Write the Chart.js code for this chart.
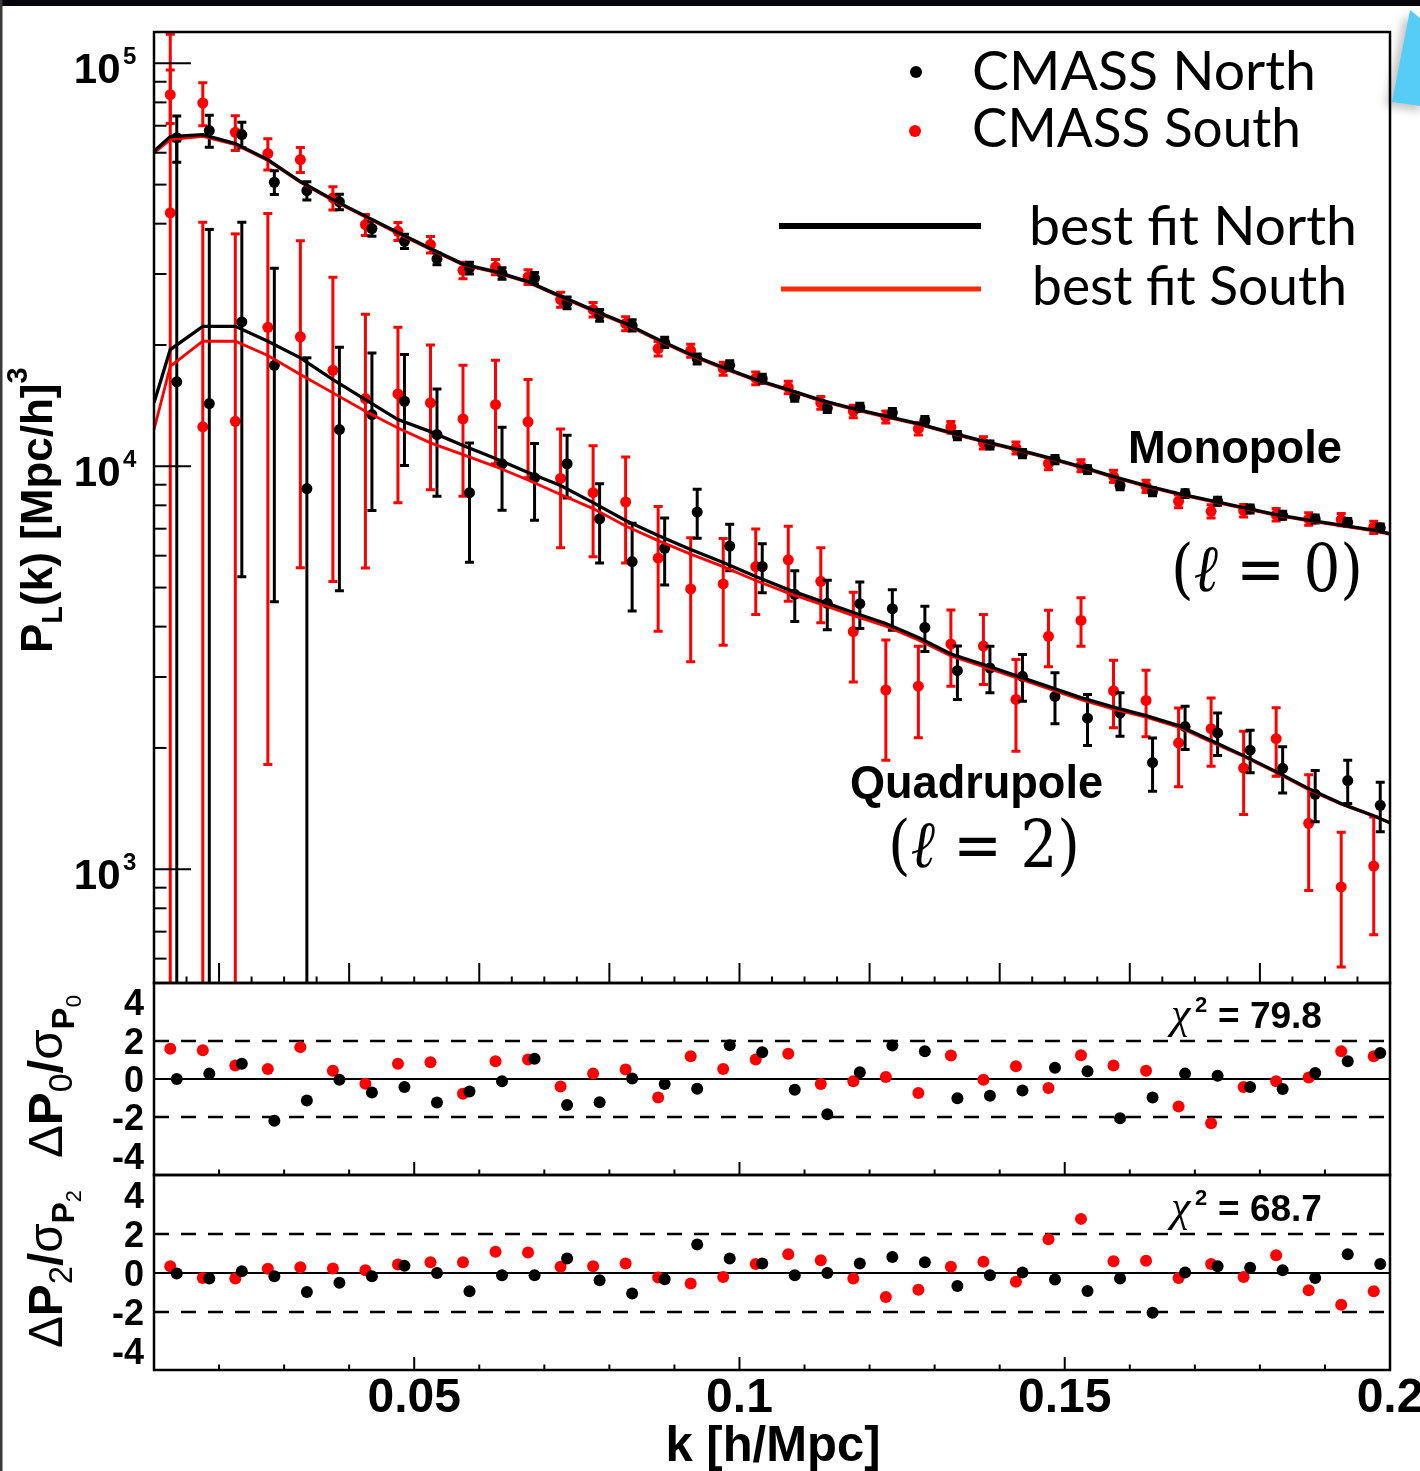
<!DOCTYPE html>
<html>
<head>
<meta charset="utf-8">
<title>CMASS power spectrum multipoles</title>
<script src="https://cdn.jsdelivr.net/npm/chart.js@4.4.1/dist/chart.umd.min.js"></script>
<style>
  html, body { margin: 0; padding: 0; background: #fff; }
  #page { position: relative; width: 1420px; height: 1471px; overflow: hidden; background: #fff; }
  #page canvas { position: absolute; left: 0; top: 0; width: 1420px; height: 1471px; }
  #overlay { position: absolute; left: 0; top: 0; pointer-events: none; }
</style>
</head>
<body>
<div id="page">
  <canvas id="mainPanel" width="1420" height="1471"></canvas>
  <canvas id="monoResidualPanel" width="1420" height="1471"></canvas>
  <canvas id="quadResidualPanel" width="1420" height="1471"></canvas>

  <svg id="overlay" width="1420" height="1471" viewBox="0 0 1420 1471" xmlns="http://www.w3.org/2000/svg">
    <defs>
      <filter id="soft" x="-50%" y="-50%" width="200%" height="200%"><feGaussianBlur stdDeviation="4"/></filter>
    </defs>
    <!-- slide furniture -->
    <rect x="0" y="0" width="1420" height="6" fill="#06060c"/>
    <rect x="0" y="0" width="2.5" height="1471" fill="#3a3a3a"/>
    <polygon points="1404,16 1385,106 1420,112 1420,24" fill="#000" opacity="0.22" filter="url(#soft)"/>
    <polygon points="1410,10 1392,102 1420,106 1420,18" fill="#55cdf6"/>

    <!-- legend -->
    <circle cx="916" cy="72" r="6" fill="#000"/>
    <circle cx="915" cy="131" r="6" fill="#ff0000"/>
    <line x1="779" y1="226" x2="981" y2="226" stroke="#000" stroke-width="6"/>
    <line x1="781" y1="289" x2="981" y2="289" stroke="#ff2a0a" stroke-width="5"/>
    <g font-family="Lato, 'Open Sans', sans-serif" font-size="55" fill="#000">
      <text x="972" y="90" textLength="344" lengthAdjust="spacingAndGlyphs">CMASS North</text>
      <text x="972" y="147" textLength="329" lengthAdjust="spacingAndGlyphs">CMASS South</text>
      <text x="1029" y="245" textLength="328" lengthAdjust="spacingAndGlyphs">best fit North</text>
      <text x="1032" y="305" textLength="315" lengthAdjust="spacingAndGlyphs">best fit South</text>
    </g>

    <!-- multipole annotations -->
    <g font-family="'Liberation Sans', Arial, sans-serif" font-weight="bold" font-size="46" fill="#000">
      <text x="1128" y="463" textLength="214" lengthAdjust="spacingAndGlyphs">Monopole</text>
      <text x="850" y="798" textLength="253" lengthAdjust="spacingAndGlyphs">Quadrupole</text>
    </g>
    <g font-family="'DejaVu Serif', 'Liberation Serif', serif" font-size="66" fill="#000">
      <text x="1171" y="591" textLength="192" lengthAdjust="spacingAndGlyphs">(<tspan font-style="italic">ℓ</tspan> = 0)</text>
      <text x="888" y="867" textLength="192" lengthAdjust="spacingAndGlyphs">(<tspan font-style="italic">ℓ</tspan> = 2)</text>
    </g>

    <!-- chi-square of each residual panel -->
    <g font-family="'Liberation Sans', Arial, sans-serif" font-weight="bold" font-size="37" fill="#000">
      <text x="1171" y="1028"><tspan font-family="'Liberation Serif', serif" font-style="italic" font-weight="normal" font-size="44">χ</tspan><tspan x="1195" dy="-16" font-size="22">2</tspan><tspan x="1218" dy="16">= 79.8</tspan></text>
      <text x="1171" y="1221"><tspan font-family="'Liberation Serif', serif" font-style="italic" font-weight="normal" font-size="44">χ</tspan><tspan x="1195" dy="-16" font-size="22">2</tspan><tspan x="1218" dy="16">= 68.7</tspan></text>
    </g>

    <!-- axis titles -->
    <g font-family="'Liberation Sans', Arial, sans-serif" fill="#000">
      <text x="773" y="1461" text-anchor="middle" font-weight="bold" font-size="50" textLength="215" lengthAdjust="spacingAndGlyphs">k [h/Mpc]</text>
      <text transform="translate(52,653) rotate(-90)" font-weight="bold" font-size="44">P<tspan font-size="29" dy="10">L</tspan><tspan dy="-10">(k) [Mpc/h]</tspan><tspan font-size="29" dy="-25">3</tspan></text>
      <text transform="translate(62,1158) rotate(-90)" font-size="48" textLength="163" lengthAdjust="spacingAndGlyphs">Δ<tspan font-weight="bold">P</tspan><tspan font-size="33" dy="10">0</tspan><tspan font-weight="bold" dy="-10">/</tspan>σ<tspan font-weight="bold" font-size="32" dy="12">P</tspan><tspan font-size="22" dy="7">0</tspan></text>
      <text transform="translate(62,1348) rotate(-90)" font-size="48" textLength="158" lengthAdjust="spacingAndGlyphs">Δ<tspan font-weight="bold">P</tspan><tspan font-size="33" dy="10">2</tspan><tspan font-weight="bold" dy="-10">/</tspan>σ<tspan font-weight="bold" font-size="32" dy="12">P</tspan><tspan font-size="22" dy="7">2</tspan></text>
    </g>
  </svg>
</div>

<script>
// ---------------------------------------------------------------------------
// Measured multipoles of the CMASS galaxy power spectrum, k in h/Mpc,
// P(k) in (Mpc/h)^3. South bins sit at the bin centres, North bins are
// drawn slightly shifted so the two samples do not hide each other.
// ---------------------------------------------------------------------------
const kSouth = [0.0125, 0.0175, 0.0225, 0.0275, 0.0325, 0.0375, 0.0425, 0.0475, 0.0525, 0.0575,
                0.0625, 0.0675, 0.0725, 0.0775, 0.0825, 0.0875, 0.0925, 0.0975, 0.1025, 0.1075,
                0.1125, 0.1175, 0.1225, 0.1275, 0.1325, 0.1375, 0.1425, 0.1475, 0.1525, 0.1575,
                0.1625, 0.1675, 0.1725, 0.1775, 0.1825, 0.1875, 0.1925, 0.1975];
const kNorth = [0.0135, 0.0185, 0.0235, 0.0285, 0.0335, 0.0385, 0.0435, 0.0485, 0.0535, 0.0585,
                0.0635, 0.0685, 0.0735, 0.0785, 0.0835, 0.0885, 0.0935, 0.0985, 0.1035, 0.1085,
                0.1135, 0.1185, 0.1235, 0.1285, 0.1335, 0.1385, 0.1435, 0.1485, 0.1535, 0.1585,
                0.1635, 0.1685, 0.1735, 0.1785, 0.1835, 0.1885, 0.1935, 0.1985];
const kFit = [0.01, 0.0125, 0.0175, 0.0225, 0.0275, 0.0325, 0.0375, 0.0425, 0.0475, 0.0525, 0.0575,
              0.0625, 0.0675, 0.0725, 0.0775, 0.0825, 0.0875, 0.0925, 0.0975, 0.1025, 0.1075,
              0.1125, 0.1175, 0.1225, 0.1275, 0.1325, 0.1375, 0.1425, 0.1475, 0.1525, 0.1575,
              0.1625, 0.1675, 0.1725, 0.1775, 0.1825, 0.1875, 0.1925, 0.1975, 0.2];

// Monopole (l = 0)
const monoNorth = [65400, 68080, 66550, 50680, 48320, 45310, 38890, 36170, 32710, 31050,
                   30100, 29300, 25440, 23700, 22380, 20310, 18470, 17800, 16500, 14870,
                   13950, 14000, 13590, 12990, 11920, 11300, 10750, 10390, 9813, 8956,
                   8654, 8556, 8188, 7839, 7557, 7404, 7261, 7033];
const monoNorthErr = [8600, 6200, 4860, 3450, 2535, 2025, 1690, 1470, 1100, 1050,
                      1000, 950, 850, 780, 720, 600, 520, 480, 430, 380,
                      350, 330, 320, 300, 280, 260, 250, 240, 220, 210,
                      200, 195, 185, 178, 172, 168, 163, 158];
const monoSouth = [83610, 79710, 67430, 59700, 57680, 46340, 39790, 38300, 35490, 30640,
                   31240, 29510, 25920, 24480, 22600, 19590, 19370, 17480, 16540, 15700,
                   14370, 13690, 13260, 12400, 12500, 11430, 11110, 10160, 10040, 9445,
                   8921, 8188, 7732, 7763, 7587, 7404, 7376, 7058];
const monoSouthErr = [12700, 9750, 6700, 5330, 4100, 3090, 2385, 1970, 1675, 1450,
                      1350, 1250, 1100, 1000, 900, 800, 720, 650, 600, 560,
                      520, 490, 460, 440, 420, 400, 380, 360, 345, 330,
                      315, 300, 290, 280, 270, 260, 255, 250];

// Quadrupole (l = 2)
const quadNorth = [16200, 14310, 22820, 17810, 8805, 12330, 13440, 14500, 11990, 8600,
                   10140, 9362, 10145, 7401, 5800, 6260, 7700, 6340, 5640, 4810,
                   4570, 4560, 4430, 3980, 3110, 3158, 3011, 2685, 2371, 2439,
                   1840, 2260, 2179, 1974, 1780, 1535, 1660, 1441];
const quadNorthErr = [48000, 24400, 17500, 13200, 9780, 7420, 5670, 4450, 3570, 2820,
                      2360, 2020, 1800, 1643, 1424, 1183, 1070, 839, 784, 693,
                      643, 601, 510, 512, 471, 418, 399, 387, 343, 301,
                      278, 278, 264, 239, 233, 223, 204, 203];
const quadSouth = [42550, 12530, 12930, 22120, 20950, 17310, 14720, 15120, 14370, 13110,
                   14230, 12890, 9327, 8600, 8154, 5920, 4960, 5106, 5638, 5860,
                   5182, 3890, 2785, 2847, 3620, 3579, 2638, 3785, 4145, 2772,
                   2624, 2058, 2232, 1783, 2108, 1300, 904, 1018];
const quadSouthErr = [75500, 27800, 24800, 20300, 15350, 12130, 9130, 7000, 5620, 4690,
                      4090, 3520, 3053, 2640, 2396, 2024, 1689, 1510, 1353, 1236,
                      1093, 976, 922, 728, 776, 706, 675, 606, 570, 529,
                      493, 456, 430, 416, 407, 415, 332, 330];

// Best-fit model curves, evaluated on kFit
const monoNorthFit = [60470, 65800, 66560, 63200, 57680, 50890, 45900, 41770, 38020, 34690, 31750,
                      30420, 28720, 26440, 24410, 22600, 20630, 18930, 17580, 16410, 15500,
                      14600, 13910, 13320, 12760, 12120, 11550, 11030, 10510, 9983, 9428,
                      8956, 8556, 8220, 7897, 7587, 7353, 7146, 6945, 6808];
const monoSouthFit = [59930, 64680, 65910, 62850, 57400, 50640, 45670, 41560, 37830, 34520, 31590,
                      30270, 28580, 26310, 24290, 22490, 20530, 18840, 17490, 16330, 15420,
                      14530, 13840, 13250, 12700, 12060, 11490, 10980, 10460, 9933, 9381,
                      8911, 8513, 8179, 7858, 7549, 7316, 7110, 6910, 6774];
const quadNorthFit = [14370, 19480, 22250, 22250, 20430, 18580, 16410, 14640, 13060, 12190, 11260,
                      10450, 9647, 8956, 8125, 7333, 6730, 6214, 5768, 5324, 4943,
                      4629, 4335, 4072, 3757, 3420, 3221, 3024, 2840, 2667, 2526,
                      2406, 2272, 2086, 1914, 1747, 1585, 1455, 1358, 1304];
const quadSouthFit = [12330, 17700, 20430, 20430, 18830, 16890, 15210, 13690, 12450, 11430, 10690,
                      9983, 9243, 8507, 7852, 7105, 6540, 6055, 5637, 5205, 4845,
                      4550, 4261, 4012, 3704, 3381, 3184, 2990, 2808, 2637, 2497,
                      2385, 2253, 2068, 1904, 1738, 1576, 1451, 1355, 1302];

// Normalised residuals (data - model) / sigma
const resMonoNorth = [0.00, 0.28, 0.80, -2.17, -1.12, -0.04, -0.70, -0.42, -1.22, -0.65,
                      -0.12, 1.06, -1.35, -1.21, 0.02, -0.26, -0.51, 1.76, 1.39, -0.56,
                      -1.83, 0.35, 1.74, 1.45, -1.00, -0.87, -0.60, 0.58, 0.40, -2.04,
                      -0.96, 0.28, 0.17, -0.42, -0.52, 0.31, 0.92, 1.36];
const resMonoSouth = [1.57, 1.50, 0.70, 0.52, 1.66, 0.43, -0.25, 0.80, 0.87, -0.77,
                      0.92, 1.01, -0.39, 0.28, 0.49, -0.96, 1.18, 0.52, 1.01, 1.32,
                      -0.26, -0.12, 0.10, -0.73, 1.22, -0.04, 0.66, -0.47, 1.24, 0.70,
                      0.43, -1.43, -2.30, -0.42, -0.12, 0.08, 1.45, 1.18];
const resQuadNorth = [-0.05, -0.31, 0.07, -0.19, -1.00, -0.53, -0.19, 0.34, -0.02, -0.96,
                      -0.14, -0.14, 0.72, -0.40, -1.08, -0.35, 1.44, 0.72, 0.46, -0.14,
                      -0.02, 0.46, 0.80, 0.52, -0.69, -0.14, 0.00, -0.36, -0.95, -0.31,
                      -2.06, 0.00, 0.32, 0.24, 0.12, -0.28, 0.93, 0.43];
const resQuadSouth = [0.32, -0.28, -0.31, 0.19, 0.27, 0.21, 0.12, 0.41, 0.53, 0.52,
                      1.06, 1.03, 0.29, 0.32, 0.46, -0.26, -0.57, -0.23, 0.43, 0.93,
                      0.63, -0.31, -1.26, -0.88, 0.29, 0.55, -0.48, 1.70, 2.75, 0.58,
                      0.60, -0.28, 0.43, -0.23, 0.89, -0.91, -1.65, -0.96];

// Tick labels
const xTickValues = [0.05, 0.1, 0.15, 0.2];
const xTickLabels = ['0.05', '0.1', '0.15', '0.2'];
const powerTickValues = [1e3, 1e4, 1e5];
const powerTickExponents = ['3', '4', '5'];
const residualTickValues = [4, 2, 0, -2, -4];
const residualTickLabels = ['4', '2', '0', '-2', '-4'];

// ---------------------------------------------------------------------------
const RED = '#ff0000';
const BLACK = '#000000';
const LABEL_FONT = '"Liberation Sans", Arial, Helvetica, sans-serif';

const toPoints = (xs, ys) => xs.map((x, i) => ({ x, y: ys[i] }));

// Vertical error bars with end caps, drawn just before each dataset's markers.
const errorBars = {
  id: 'errorBars',
  beforeDatasetDraw(chart, args) {
    const ds = chart.data.datasets[args.index];
    if (!ds.errors) return;
    const { ctx, chartArea: a } = chart;
    const xs = chart.scales.x, ys = chart.scales.y;
    ctx.save();
    ctx.beginPath();
    ctx.rect(a.left, a.top, a.right - a.left, a.bottom - a.top);
    ctx.clip();
    ctx.strokeStyle = ds.backgroundColor;
    ctx.lineWidth = 3;
    ctx.lineCap = 'butt';
    ds.data.forEach((p, i) => {
      const e = ds.errors[i];
      const px = xs.getPixelForValue(p.x);
      const hiV = p.y + e, loV = p.y - e;
      const top = ys.getPixelForValue(hiV);
      const bottom = loV > ys.min ? ys.getPixelForValue(loV) : a.bottom + 5;
      ctx.beginPath();
      ctx.moveTo(px, top);
      ctx.lineTo(px, bottom);
      ctx.stroke();
      ctx.beginPath();
      if (hiV < ys.max) { ctx.moveTo(px - 4.5, top); ctx.lineTo(px + 4.5, top); }
      if (loV > ys.min) { ctx.moveTo(px - 4.5, bottom); ctx.lineTo(px + 4.5, bottom); }
      ctx.stroke();
    });
    ctx.restore();
  }
};

// Frame, inward ticks, reference lines and tick labels of each panel.
const panelFrame = {
  id: 'panelFrame',
  beforeDatasetsDraw(chart, args, o) {
    if (!o.refLines) return;
    const { ctx, chartArea: a } = chart;
    const ys = chart.scales.y;
    ctx.save();
    ctx.strokeStyle = '#000';
    o.refLines.forEach(r => {
      ctx.lineWidth = r.width;
      ctx.setLineDash(r.dash);
      const py = Math.round(ys.getPixelForValue(r.value));
      ctx.beginPath();
      ctx.moveTo(a.left, py);
      ctx.lineTo(a.right, py);
      ctx.stroke();
    });
    ctx.restore();
  },
  afterDatasetsDraw(chart, args, o) {
    const { ctx, chartArea: a } = chart;
    const xs = chart.scales.x, ys = chart.scales.y;
    ctx.save();
    ctx.strokeStyle = '#000';
    ctx.lineWidth = 2;

    // k ticks along the bottom edge, pointing inwards
    const n = Math.round((xs.max - xs.min) / o.xMinor);
    for (let j = 0; j <= n; j++) {
      const v = xs.min + j * o.xMinor;
      const r = v / o.xMajor;
      const major = Math.abs(r - Math.round(r)) < 1e-6;
      const px = xs.getPixelForValue(v);
      ctx.beginPath();
      ctx.moveTo(px, a.bottom);
      ctx.lineTo(px, a.bottom - (major ? o.xMajorLen : o.xMinorLen));
      ctx.stroke();
    }

    // logarithmic ticks on the left edge
    if (o.logTicks) {
      const d0 = Math.floor(Math.log10(ys.min)), d1 = Math.ceil(Math.log10(ys.max));
      for (let d = d0; d <= d1; d++) {
        for (let m = 1; m <= 9; m++) {
          const v = m * Math.pow(10, d);
          if (v < ys.min || v > ys.max) continue;
          const py = ys.getPixelForValue(v);
          ctx.beginPath();
          ctx.moveTo(a.left, py);
          ctx.lineTo(a.left + (m === 1 ? 37 : 12.5), py);
          ctx.stroke();
        }
      }
    }

    // frame
    ctx.lineWidth = 2.5;
    ctx.strokeRect(a.left, a.top, a.right - a.left, a.bottom - a.top);

    // tick labels
    ctx.fillStyle = '#000';
    ctx.textBaseline = 'alphabetic';
    if (o.powerLabels) {
      powerTickValues.forEach((v, i) => {
        const py = ys.getPixelForValue(v);
        ctx.font = 'bold 42px ' + LABEL_FONT;
        ctx.textAlign = 'right';
        ctx.fillText('10', a.left - 33.5, py + 20);
        ctx.font = 'bold 24px ' + LABEL_FONT;
        ctx.textAlign = 'left';
        ctx.fillText(powerTickExponents[i], a.left - 31, py + 1);
      });
    }
    if (o.residualLabels) {
      ctx.font = 'bold 36px ' + LABEL_FONT;
      ctx.textAlign = 'right';
      residualTickValues.forEach((v, i) => {
        const py = ys.getPixelForValue(v);
        ctx.fillText(residualTickLabels[i], a.left - 10, py + 13);
      });
    }
    if (o.kLabels) {
      ctx.font = 'bold 48px ' + LABEL_FONT;
      ctx.textAlign = 'center';
      xTickValues.forEach((v, i) => {
        ctx.fillText(xTickLabels[i], xs.getPixelForValue(v), a.bottom + 42);
      });
    }
    ctx.restore();
  }
};

function markers(xs, ys, errs, color, order, radius) {
  const ds = {
    data: toPoints(xs, ys),
    backgroundColor: color,
    borderColor: color,
    borderWidth: 0,
    pointRadius: radius,
    pointHoverRadius: radius,
    showLine: false,
    order
  };
  if (errs) ds.errors = errs;
  return ds;
}

function fitCurve(ys, color, width, order) {
  return {
    data: toPoints(kFit, ys),
    showLine: true,
    borderColor: color,
    backgroundColor: color,
    borderWidth: width,
    pointRadius: 0,
    tension: 0,
    fill: false,
    order
  };
}

function panel(canvasId, padding, yScale, datasets, frame) {
  return new Chart(document.getElementById(canvasId), {
    type: 'scatter',
    data: { datasets },
    options: {
      responsive: false,
      animation: false,
      devicePixelRatio: 1,
      events: [],
      layout: { padding, autoPadding: false },
      scales: {
        x: { type: 'linear', min: 0.01, max: 0.2, display: false },
        y: Object.assign({ display: false }, yScale)
      },
      plugins: {
        legend: { display: false },
        tooltip: { enabled: false },
        panelFrame: frame
      }
    },
    plugins: [errorBars, panelFrame]
  });
}

const residualRefLines = [
  { value: 2, dash: [15, 12], width: 2.5 },
  { value: 0, dash: [], width: 2 },
  { value: -2, dash: [15, 12], width: 2.5 }
];

// Upper panel: monopole and quadrupole with the best-fit models
panel('mainPanel',
  { left: 154, top: 32, right: 30, bottom: 488 },
  { type: 'logarithmic', min: 522, max: 119600 },
  [
    fitCurve(monoNorthFit, BLACK, 3.3, 1),
    fitCurve(quadNorthFit, BLACK, 3.3, 1),
    fitCurve(monoSouthFit, RED, 2.8, 2),
    fitCurve(quadSouthFit, RED, 2.8, 2),
    markers(kNorth, monoNorth, monoNorthErr, BLACK, 3, 5.5),
    markers(kNorth, quadNorth, quadNorthErr, BLACK, 3, 5.5),
    markers(kSouth, monoSouth, monoSouthErr, RED, 4, 5.5),
    markers(kSouth, quadSouth, quadSouthErr, RED, 4, 5.5)
  ],
  { xMinor: 0.005, xMajor: 0.02, xMinorLen: 6.5, xMajorLen: 20, logTicks: true, powerLabels: true }
);

// Middle panel: monopole residuals
panel('monoResidualPanel',
  { left: 154, top: 983, right: 30, bottom: 296 },
  { type: 'linear', min: -5, max: 5 },
  [
    markers(kNorth, resMonoNorth, null, BLACK, 1, 6),
    markers(kSouth, resMonoSouth, null, RED, 2, 6)
  ],
  { xMinor: 0.01, xMajor: 0.05, xMinorLen: 5.5, xMajorLen: 13, refLines: residualRefLines, residualLabels: true }
);

// Lower panel: quadrupole residuals
panel('quadResidualPanel',
  { left: 154, top: 1175, right: 30, bottom: 101 },
  { type: 'linear', min: -5, max: 5 },
  [
    markers(kNorth, resQuadNorth, null, BLACK, 1, 6),
    markers(kSouth, resQuadSouth, null, RED, 2, 6)
  ],
  { xMinor: 0.01, xMajor: 0.05, xMinorLen: 5.5, xMajorLen: 13, refLines: residualRefLines, residualLabels: true, kLabels: true }
);
</script>
</body>
</html>
